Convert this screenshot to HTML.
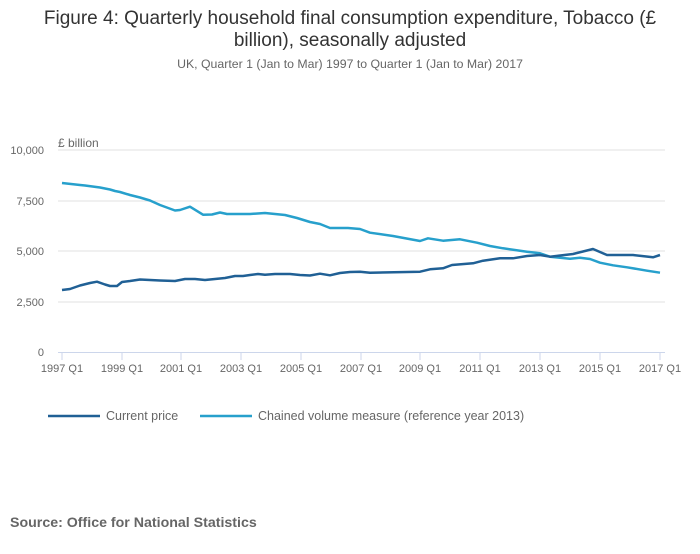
<!DOCTYPE html>
<html><head><meta charset="utf-8"><style>
body{margin:0;background:#fff;width:700px;height:549px;overflow:hidden;font-family:"Liberation Sans",sans-serif}
</style></head><body>
<svg width="700" height="549" xmlns="http://www.w3.org/2000/svg" font-family="Liberation Sans, sans-serif">
<text x="350" y="24" text-anchor="middle" font-size="19" fill="#333">Figure 4: Quarterly household final consumption expenditure, Tobacco (£</text>
<text x="350" y="46" text-anchor="middle" font-size="19" fill="#333">billion), seasonally adjusted</text>
<text x="350" y="68" text-anchor="middle" font-size="12.3" fill="#666">UK, Quarter 1 (Jan to Mar) 1997 to Quarter 1 (Jan to Mar) 2017</text>
<text x="58" y="147" font-size="12" fill="#666">£ billion</text>
<g stroke="#e0e0e0" stroke-width="1">
<line x1="58" x2="665" y1="150" y2="150"/><line x1="58" x2="665" y1="201" y2="201"/>
<line x1="58" x2="665" y1="251" y2="251"/><line x1="58" x2="665" y1="302" y2="302"/>
</g>
<line x1="58" x2="665" y1="352.5" y2="352.5" stroke="#ccd6eb"/>
<g font-size="11" fill="#666" text-anchor="end">
<text x="44" y="154">10,000</text><text x="44" y="205">7,500</text><text x="44" y="255">5,000</text><text x="44" y="306">2,500</text><text x="44" y="356">0</text>
</g>
<g stroke="#ccd6eb"><line x1="62" x2="62" y1="352" y2="360"/><line x1="122" x2="122" y1="352" y2="360"/><line x1="181" x2="181" y1="352" y2="360"/><line x1="241" x2="241" y1="352" y2="360"/><line x1="301" x2="301" y1="352" y2="360"/><line x1="361" x2="361" y1="352" y2="360"/><line x1="420" x2="420" y1="352" y2="360"/><line x1="480" x2="480" y1="352" y2="360"/><line x1="540" x2="540" y1="352" y2="360"/><line x1="600" x2="600" y1="352" y2="360"/><line x1="660" x2="660" y1="352" y2="360"/></g>
<g font-size="11" fill="#666" text-anchor="middle">
<text x="62" y="372">1997 Q1</text><text x="122" y="372">1999 Q1</text><text x="181" y="372">2001 Q1</text><text x="241" y="372">2003 Q1</text><text x="301" y="372">2005 Q1</text><text x="361" y="372">2007 Q1</text><text x="420" y="372">2009 Q1</text><text x="480" y="372">2011 Q1</text><text x="540" y="372">2013 Q1</text><text x="600" y="372">2015 Q1</text><text x="660" y="372">2017 Q1</text>
</g>
<polyline fill="none" stroke="#27a0cc" stroke-width="2.5" stroke-linejoin="round" points="62,183 80,185 85,185.5 100,187.5 110,189.5 115,191 120,192 130,195 140,197.5 145,199 150,200.5 160,205 175,210.5 180,210 190,206.7 203,214.7 212,214.5 220,212.5 227,214 250,214 265,213 285,215 297,218 310,222 320,224 330,228 340,228 348,228 360,229 370,232.7 393,236 420,241 428,238.3 443,240.7 460,239.3 477,242.7 490,246 503,248.3 527,251.7 540,253.3 550,256.7 570,258.7 580,257.7 590,259 600,262.7 613,265.3 627,267.3 647,270.7 660,272.7"/>
<polyline fill="none" stroke="#206095" stroke-width="2.5" stroke-linejoin="round" points="62,290 70,289 80,285.5 90,283 97,281.7 105,284.5 110,286 117,286 122,282 130,281 140,279.5 150,280 160,280.5 175,281 185,279 195,279 205,280 215,279 225,278 235,276 243,276 250,275 258,274 265,274.7 275,274 290,274 300,275 310,275.5 320,273.7 330,275.3 340,273 350,272 360,271.7 370,272.7 420,271.7 430,269.3 443,268.3 452,265 473,263.3 483,260.7 500,258.3 513,258.3 527,256 540,255 550,256.7 573,254 593,249 607,255 633,255 653,257.3 660,255"/>
<line x1="48" x2="100" y1="416" y2="416" stroke="#206095" stroke-width="2.5"/>
<text x="106" y="420" font-size="12.5" fill="#666">Current price</text>
<line x1="200" x2="252" y1="416" y2="416" stroke="#27a0cc" stroke-width="2.5"/>
<text x="258" y="420" font-size="12.5" fill="#666">Chained volume measure (reference year 2013)</text>
<text x="10" y="527" font-size="14.2" font-weight="bold" fill="#666">Source: Office for National Statistics</text>
</svg>
</body></html>
